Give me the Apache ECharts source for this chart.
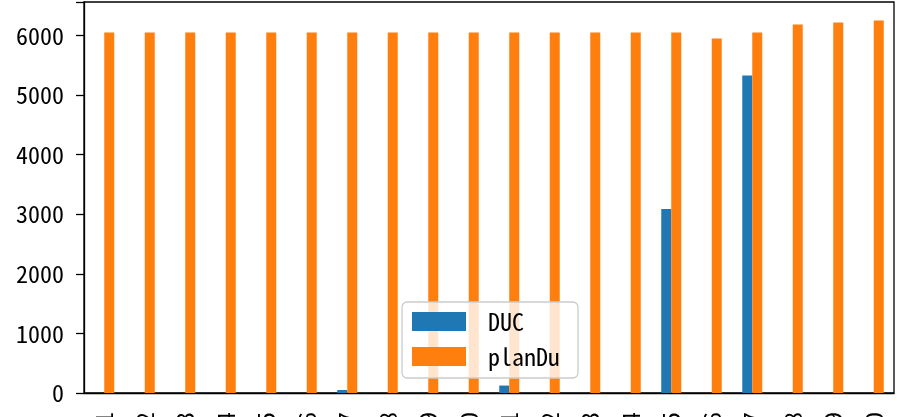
<!DOCTYPE html>
<html><head><meta charset="utf-8">
<script src="https://cdn.jsdelivr.net/npm/echarts@6/dist/echarts.min.js"></script>
<style>html,body{margin:0;padding:0;background:#fff}#c{width:897px;height:417px}</style>
</head><body><div id="c"></div>
<script>
const categories = ["井01","井02","井03","井04","井05","井06","井07","井08","井09","井10","井11","井12","井13","井14","井15","井16","井17","井18","井19","井20"];
const ducValues = [0,0,0,0,0,0,50,0,0,0,125,0,0,0,3090,0,5330,0,0,0];
const planDuValues = [6050,6050,6050,6050,6050,6050,6050,6050,6050,6050,6050,6050,6050,6050,6050,5950,6050,6185,6218,6252];
const yTicks = [0,1000,2000,3000,4000,5000,6000];

const font = "'Noto Sans Mono CJK SC', 'Noto Sans CJK SC', 'DejaVu Sans', sans-serif";
const chart = echarts.init(document.getElementById('c'), null, {renderer:'canvas'});
chart.setOption({
  animation:false,
  grid:{left:84,right:3,top:2,bottom:24,show:true,borderColor:'#000',borderWidth:1.3,containLabel:false,outerBoundsMode:'none'},
  legend:{
    data:['DUC','planDu'], orient:'vertical', left:402, top:302,
    itemWidth:54, itemHeight:19, itemGap:11,
    icon:'rect',
    backgroundColor:'rgba(255,255,255,0.8)', borderColor:'#ccc', borderWidth:1.3, borderRadius:5,
    padding:[7.5,18,9.5,10],
    textStyle:{fontFamily:font,fontSize:24,lineHeight:19,color:'#000',padding:[0,0,0,17]}
  },
  xAxis:{
    type:'category', data:categories,
    axisLine:{lineStyle:{color:'#000',width:1.3}},
    axisTick:{alignWithLabel:true,length:8,lineStyle:{color:'#000',width:1.3}},
    axisLabel:{rotate:90,fontFamily:font,fontSize:24,color:'#000',margin:19,interval:0}
  },
  yAxis:{
    type:'value', min:0, max:6562, interval:1000,
    splitLine:{show:false},
    axisLine:{show:true,lineStyle:{color:'#000',width:1.3}},
    axisTick:{show:true,length:8,lineStyle:{color:'#000',width:1.3}},
    axisLabel:{fontFamily:font,fontSize:24,color:'#000',margin:20,
      formatter:function(v){return yTicks.indexOf(v)>=0?String(v):'';}}
  },
  series:[
    {name:'DUC',type:'bar',data:ducValues,barWidth:10,barGap:'0%',itemStyle:{color:'#1f77b4'}},
    {name:'planDu',type:'bar',data:planDuValues,barWidth:10,barGap:'0%',itemStyle:{color:'#ff7f0e'}}
  ]
});
</script></body></html>
